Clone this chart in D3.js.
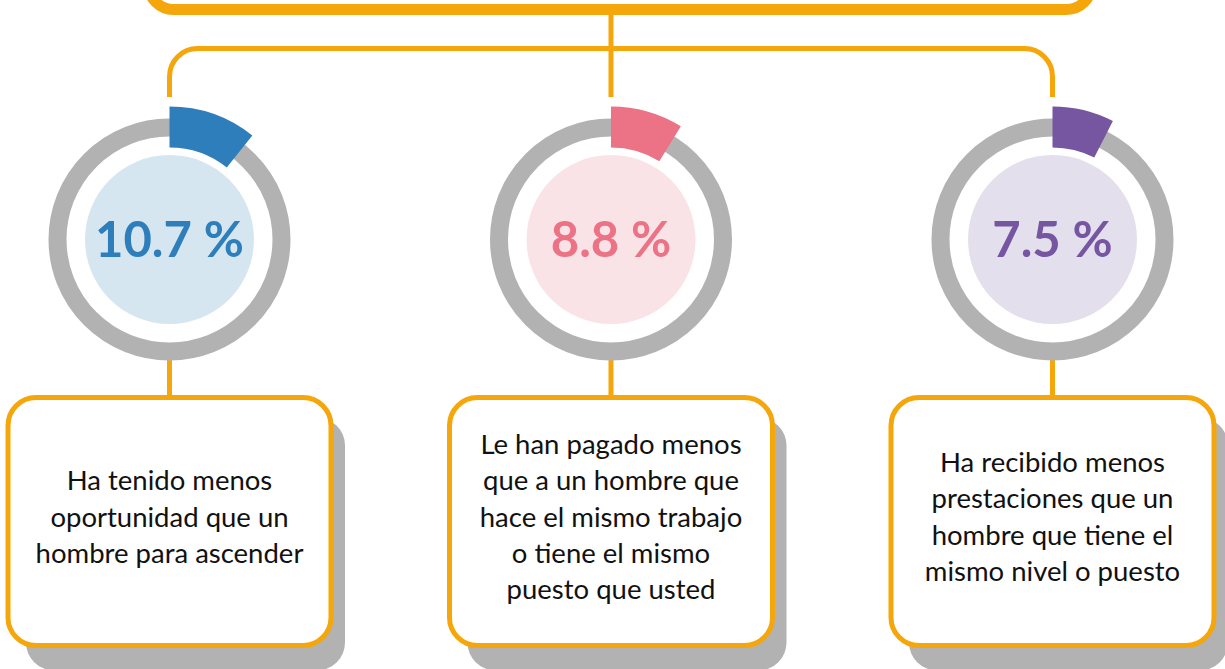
<!DOCTYPE html>
<html>
<head>
<meta charset="utf-8">
<script src="https://cdn.jsdelivr.net/npm/d3@7"></script>
<style>
  html, body { margin: 0; padding: 0; background: #fff; }
  svg { display: block; }
  .pct { font-family: Lato, "Open Sans", sans-serif; font-weight: 700; }
  .label { font-family: Lato, "Open Sans", sans-serif; fill: #111; }
</style>
</head>
<body>
<script>
// data
const categories = [
    ["Ha tenido menos", "oportunidad que un", "hombre para ascender"],
    ["Le han pagado menos", "que a un hombre que", "hace el mismo trabajo", "o tiene el mismo", "puesto que usted"],
    ["Ha recibido menos", "prestaciones que un", "hombre que tiene el", "mismo nivel o puesto"]
]
const values = [10.7, 8.8, 7.5]

// palette
const darkColors = ["#2E7EBC", "#EC7286", "#7656A0"]
const lightColors = ["#D6E6F1", "#F9E3E7", "#E4DFED"]
const orange = "#F5A60B"
const grey = "#B2B2B2"

const width = 1225, height = 669
const cy = 239.5

const svg = d3.select("body").append("svg")
    .attr("width", width)
    .attr("height", height)

// x position of each column
let x = d3.scalePoint()
    .domain(d3.range(values.length))
    .range([169.5, 1052.5])

// percentage -> angle
let angle = d3.scaleLinear()
    .domain([0, 100])
    .range([0, 2 * Math.PI])

// top box (only its bottom is visible)
svg.append("rect")
    .attr("x", 148.5)
    .attr("y", -60)
    .attr("width", 943)
    .attr("height", 69.5)
    .attr("rx", 25)
    .attr("fill", "#fff")
    .attr("stroke", orange)
    .attr("stroke-width", 11)

// connectors
let r = 28, yh = 48.5, yEnd = 97
let x0 = x(0), x2 = x(values.length - 1)
svg.append("path")
    .attr("d", `M${x0},${yEnd} V${yh + r} A${r},${r} 0 0 1 ${x0 + r},${yh} H${x2 - r} A${r},${r} 0 0 1 ${x2},${yh + r} V${yEnd}`)
    .attr("fill", "none")
    .attr("stroke", orange)
    .attr("stroke-width", 5)

svg.append("line")
    .attr("x1", x(1)).attr("x2", x(1))
    .attr("y1", 15).attr("y2", yEnd)
    .attr("stroke", orange)
    .attr("stroke-width", 5)

// vertical connectors from ring to box
svg.selectAll("line.down")
    .data(values)
    .enter()
    .append("line")
    .attr("class", "down")
    .attr("x1", (d, i) => x(i)).attr("x2", (d, i) => x(i))
    .attr("y1", cy + 115).attr("y2", 400)
    .attr("stroke", orange)
    .attr("stroke-width", 5)

// rings
let groups = svg.selectAll("g.ring")
    .data(values)
    .enter()
    .append("g")
    .attr("class", "ring")
    .attr("transform", (d, i) => `translate(${x(i)}, ${cy})`)

groups.append("circle")
    .attr("r", 112)
    .attr("fill", "#fff")
    .attr("stroke", grey)
    .attr("stroke-width", 18)

groups.append("circle")
    .attr("r", 84.5)
    .attr("fill", (d, i) => lightColors[i])

let arc = d3.arc()
    .innerRadius(92)
    .outerRadius(133)
    .startAngle(0)
    .endAngle(d => angle(d))

groups.append("path")
    .attr("d", arc)
    .attr("fill", (d, i) => darkColors[i])

groups.append("text")
    .attr("class", "pct")
    .attr("text-anchor", "middle")
    .attr("y", 17.5)
    .attr("font-size", 49)
    .attr("fill", (d, i) => darkColors[i])
    .text(d => d3.format(".1f")(d) + " %")

// label boxes
let boxW = 323, boxTop = 397.5, boxH = 248
let boxes = svg.selectAll("g.box")
    .data(categories)
    .enter()
    .append("g")
    .attr("class", "box")
    .attr("transform", (d, i) => `translate(${x(i) - boxW / 2}, ${boxTop})`)

boxes.append("rect")
    .attr("x", 18)
    .attr("y", 20)
    .attr("width", boxW - 4)
    .attr("height", boxH + 5)
    .attr("rx", 28)
    .attr("fill", grey)

boxes.append("rect")
    .attr("width", boxW)
    .attr("height", boxH)
    .attr("rx", 28)
    .attr("fill", "#fff")
    .attr("stroke", orange)
    .attr("stroke-width", 5)

let lineH = 36.3
boxes.append("text")
    .attr("class", "label")
    .attr("text-anchor", "middle")
    .attr("font-size", 27.5)
    .selectAll("tspan")
    .data(d => d.map((t, j) => ({ t, j, n: d.length })))
    .enter()
    .append("tspan")
    .attr("x", boxW / 2)
    .attr("y", d => 129 + (d.j - (d.n - 1) / 2) * lineH)
    .text(d => d.t)
</script>
</body>
</html>
